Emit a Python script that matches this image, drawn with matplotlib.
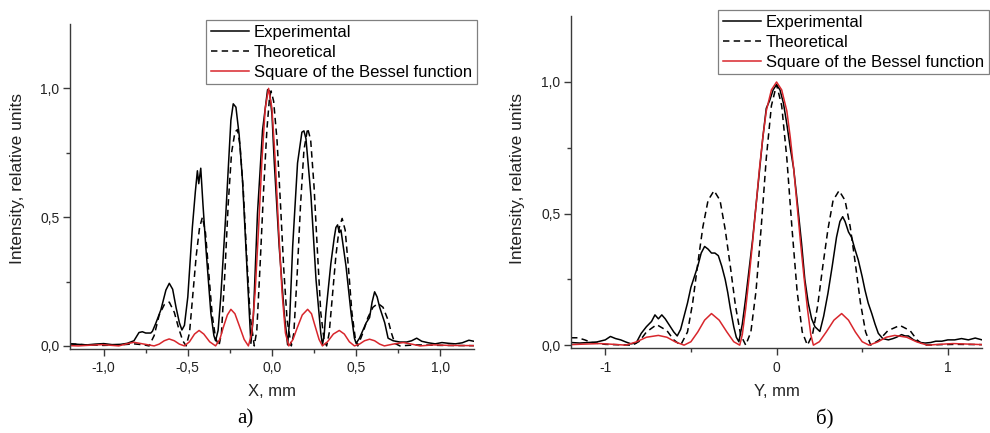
import matplotlib
matplotlib.use('Agg')
import matplotlib.pyplot as plt
from matplotlib.ticker import FixedLocator

# ---- panel a) : scan along X ----
x_exp_a = [-1.2, -1.15, -1.1, -1.05, -1.0, -0.95, -0.9, -0.86, -0.82, -0.79, -0.77, -0.75, -0.72, -0.71,
           -0.69, -0.66, -0.63, -0.61, -0.59, -0.57, -0.55, -0.535, -0.52, -0.50, -0.473, -0.455, -0.443,
           -0.435, -0.423, -0.41, -0.393, -0.363, -0.345, -0.335, -0.32, -0.304, -0.274, -0.244, -0.23,
           -0.214, -0.195, -0.175, -0.145, -0.125, -0.11, -0.086, -0.056, -0.026, -0.015, 0.0, 0.014, 0.043,
           0.073, 0.093, 0.105, 0.123, 0.152, 0.178, 0.19, 0.202, 0.232, 0.262, 0.29, 0.30, 0.31, 0.32, 0.35,
           0.37, 0.38, 0.39, 0.40, 0.41, 0.44, 0.47, 0.49, 0.50, 0.52, 0.54, 0.56, 0.58, 0.595, 0.61, 0.625,
           0.64, 0.67, 0.69, 0.72, 0.76, 0.80, 0.83, 0.86, 0.89, 0.93, 0.97, 1.01, 1.05, 1.09, 1.13, 1.17, 1.2]
i_exp_a = [0.008, 0.006, 0.004, 0.007, 0.009, 0.005, 0.006, 0.01, 0.02, 0.052, 0.055, 0.05, 0.05, 0.057,
           0.088, 0.14, 0.217, 0.243, 0.22, 0.15, 0.09, 0.062, 0.08, 0.19, 0.46, 0.6, 0.68,
           0.63, 0.69, 0.55, 0.385, 0.127, 0.04, 0.02, 0.06, 0.19, 0.514, 0.876, 0.94,
           0.927, 0.82, 0.643, 0.256, 0.01, 0.12, 0.514, 0.837, 0.995, 0.99, 0.9, 0.71, 0.385,
           0.127, 0.004, 0.1, 0.385, 0.71, 0.83, 0.835, 0.805, 0.58, 0.256, 0.05, 0.005, 0.04, 0.127, 0.32,
           0.42, 0.46, 0.47, 0.44, 0.45, 0.31, 0.127, 0.03, 0.01, 0.03, 0.06, 0.09, 0.11, 0.17, 0.21, 0.19,
           0.15, 0.09, 0.03, 0.02, 0.015, 0.015, 0.02, 0.03, 0.018, 0.012, 0.008, 0.013, 0.01, 0.008, 0.012, 0.022, 0.018]

x_th_a = [-1.2, -1.1, -1.0, -0.9, -0.82, -0.76, -0.73, -0.70, -0.67, -0.64, -0.61, -0.58, -0.555, -0.53,
          -0.51, -0.49, -0.47, -0.45, -0.43, -0.413, -0.395, -0.375, -0.355, -0.335, -0.315, -0.30, -0.28,
          -0.26, -0.24, -0.22, -0.205, -0.19, -0.17, -0.15, -0.13, -0.105, -0.09, -0.07, -0.05, -0.03,
          -0.015, -0.005, 0.01, 0.03, 0.05, 0.07, 0.09, 0.115, 0.13, 0.15, 0.17, 0.19, 0.212, 0.23, 0.25,
          0.27, 0.29, 0.31, 0.325, 0.34, 0.36, 0.38, 0.40, 0.417, 0.435, 0.455, 0.475, 0.495, 0.51, 0.54,
          0.57, 0.60, 0.63, 0.66, 0.69, 0.71, 0.73, 0.76, 0.85, 1.0, 1.2]
i_th_a = [0.008, 0.004, 0.002, 0.004, 0.008, 0.004, 0.0, 0.04, 0.12, 0.16, 0.17, 0.13, 0.07, 0.02,
          0.0, 0.05, 0.2, 0.35, 0.46, 0.50, 0.44, 0.28, 0.12, 0.03, 0.0, 0.05, 0.28,
          0.55, 0.75, 0.83, 0.84, 0.78, 0.6, 0.35, 0.12, 0.0, 0.06, 0.32, 0.6, 0.84,
          0.96, 0.99, 0.95, 0.8, 0.56, 0.3, 0.1, 0.0, 0.05, 0.28, 0.55, 0.76, 0.845, 0.8, 0.62,
          0.37, 0.13, 0.02, 0.0, 0.05, 0.2, 0.35, 0.46, 0.495, 0.45, 0.3, 0.13, 0.03, 0.0, 0.05,
          0.11, 0.15, 0.165, 0.15, 0.1, 0.05, 0.01, 0.0, 0.004, 0.002, 0.001]

x_bes_a = [-1.2, -1.15, -1.1, -1.01, -0.95, -0.91, -0.87, -0.82, -0.76, -0.70, -0.67, -0.64, -0.611, -0.58,
           -0.55, -0.52, -0.49, -0.46, -0.433, -0.405, -0.37, -0.335, -0.31, -0.29, -0.265, -0.244, -0.22,
           -0.195, -0.165, -0.14, -0.12, -0.10, -0.08, -0.06, -0.04, -0.02, 0.0, 0.02, 0.04, 0.06, 0.08,
           0.10, 0.125, 0.15, 0.18, 0.212, 0.235, 0.255, 0.28, 0.30, 0.33, 0.365, 0.40, 0.43, 0.46, 0.49,
           0.52, 0.55, 0.58, 0.61, 0.64, 0.668, 0.72, 0.78, 0.83, 0.88, 0.96, 1.05, 1.2]
i_bes_a = [0.001, 0.0, 0.002, 0.005, 0.002, 0.0, 0.007, 0.014, 0.007, 0.0, 0.007, 0.02, 0.027, 0.02,
           0.007, 0.0, 0.016, 0.046, 0.06, 0.046, 0.016, 0.0, 0.025, 0.07, 0.12, 0.142, 0.125,
           0.08, 0.025, 0.0, 0.05, 0.207, 0.45, 0.716, 0.922, 1.0, 0.922, 0.716, 0.45, 0.207, 0.05,
           0.0, 0.025, 0.07, 0.12, 0.142, 0.125, 0.08, 0.025, 0.0, 0.016, 0.046, 0.06, 0.046, 0.016, 0.0,
           0.007, 0.02, 0.026, 0.02, 0.007, 0.0, 0.007, 0.013, 0.007, 0.0, 0.004, 0.002, 0.001]

# ---- panel б) : scan along Y ----
y_exp_b = [-1.2, -1.15, -1.1, -1.05, -1.0, -0.97, -0.94, -0.91, -0.88, -0.85, -0.82, -0.79, -0.76, -0.73,
           -0.71, -0.69, -0.67, -0.65, -0.62, -0.60, -0.58, -0.56, -0.54, -0.52, -0.50, -0.48, -0.46, -0.44,
           -0.42, -0.40, -0.38, -0.36, -0.34, -0.32, -0.30, -0.285, -0.27, -0.25, -0.235, -0.22, -0.20, -0.18,
           -0.16, -0.14, -0.12, -0.10, -0.08, -0.06, -0.04, -0.02, 0.0, 0.02, 0.04, 0.06, 0.08, 0.10, 0.12,
           0.146, 0.165, 0.185, 0.205, 0.224, 0.253, 0.275, 0.30, 0.325, 0.35, 0.37, 0.386, 0.40, 0.42,
           0.438, 0.455, 0.477, 0.50, 0.516, 0.535, 0.556, 0.575, 0.594, 0.62, 0.653, 0.68, 0.70, 0.73,
           0.75, 0.77, 0.80, 0.84, 0.867, 0.9, 0.93, 0.965, 1.0, 1.04, 1.08, 1.12, 1.16, 1.2]
i_exp_b = [0.01, 0.008, 0.01, 0.012, 0.02, 0.033, 0.025, 0.02, 0.012, 0.005, 0.008, 0.045, 0.07, 0.09,
           0.115, 0.10, 0.115, 0.1, 0.07, 0.05, 0.035, 0.06, 0.11, 0.16, 0.22, 0.26, 0.3, 0.35,
           0.375, 0.365, 0.35, 0.35, 0.34, 0.30, 0.25, 0.2, 0.14, 0.07, 0.03, 0.013, 0.08, 0.18,
           0.29, 0.4, 0.53, 0.66, 0.79, 0.9, 0.93, 0.97, 0.99, 0.97, 0.92, 0.84, 0.75, 0.67, 0.55,
           0.387, 0.25, 0.16, 0.1, 0.07, 0.052, 0.11, 0.197, 0.3, 0.41, 0.47, 0.488, 0.47, 0.43,
           0.41, 0.37, 0.324, 0.26, 0.21, 0.16, 0.12, 0.08, 0.045, 0.025, 0.02, 0.025, 0.03, 0.04,
           0.035, 0.035, 0.02, 0.01, 0.008, 0.01, 0.015, 0.015, 0.02, 0.02, 0.025, 0.02, 0.027, 0.02]

y_th_b = [-1.2, -1.16, -1.12, -1.08, -1.0, -0.9, -0.84, -0.80, -0.76, -0.70, -0.64, -0.60, -0.56, -0.52,
          -0.49, -0.46, -0.43, -0.40, -0.365, -0.33, -0.30, -0.27, -0.24, -0.21, -0.18, -0.15, -0.12, -0.09,
          -0.06, -0.03, 0.0, 0.03, 0.06, 0.09, 0.12, 0.15, 0.18, 0.21, 0.24, 0.27, 0.30, 0.33, 0.365, 0.40,
          0.43, 0.46, 0.49, 0.52, 0.55, 0.60, 0.65, 0.72, 0.78, 0.82, 0.86, 0.95, 1.05, 1.2]
i_th_b = [0.028, 0.028, 0.02, 0.01, 0.003, 0.001, 0.0, 0.015, 0.05, 0.078, 0.055, 0.02, 0.0, 0.05,
          0.16, 0.31, 0.45, 0.55, 0.587, 0.55, 0.44, 0.3, 0.15, 0.04, 0.0, 0.05, 0.205, 0.445,
          0.71, 0.91, 0.99, 0.91, 0.71, 0.445, 0.205, 0.05, 0.0, 0.04, 0.15, 0.3, 0.44, 0.55, 0.587, 0.55,
          0.45, 0.31, 0.16, 0.05, 0.0, 0.02, 0.055, 0.075, 0.055, 0.02, 0.0, 0.002, 0.003, 0.002]

y_bes_b = [-1.2, -1.12, -1.03, -0.95, -0.88, -0.82, -0.76, -0.69, -0.64, -0.59, -0.54, -0.50, -0.46, -0.42,
           -0.38, -0.335, -0.29, -0.25, -0.215, -0.20, -0.18, -0.16, -0.14, -0.12, -0.10, -0.08, -0.06, -0.03,
           0.0, 0.03, 0.06, 0.08, 0.10, 0.12, 0.14, 0.16, 0.18, 0.20, 0.215, 0.25, 0.29, 0.335, 0.38, 0.42,
           0.46, 0.50, 0.54, 0.59, 0.64, 0.69, 0.76, 0.82, 0.88, 0.95, 1.03, 1.12, 1.2]
i_bes_b = [0.002, 0.004, 0.006, 0.003, 0.0, 0.012, 0.03, 0.037, 0.03, 0.012, 0.0, 0.013, 0.05, 0.095,
           0.12, 0.095, 0.05, 0.013, 0.0, 0.04, 0.14, 0.26, 0.39, 0.53, 0.67, 0.79, 0.89, 0.97,
           1.0, 0.97, 0.89, 0.79, 0.67, 0.53, 0.39, 0.26, 0.14, 0.04, 0.0, 0.013, 0.05, 0.095, 0.12, 0.095,
           0.05, 0.013, 0.0, 0.012, 0.03, 0.037, 0.03, 0.012, 0.0, 0.003, 0.006, 0.004, 0.002]

yticks = [0.0, 0.5, 1.0]
yticklabels = ['0,0', '0,5', '1,0']
xticks_a = [-1.0, -0.5, 0.0, 0.5, 1.0]
xticklabels_a = ['-1,0', '-0,5', '0,0', '0,5', '1,0']
xticks_b = [-1, 0, 1]
xticklabels_b = ['-1', '0', '1']
labels = ['Experimental', 'Theoretical', 'Square of the Bessel function']

plt.rcParams['font.family'] = ['Liberation Sans', 'DejaVu Sans']
RED = '#d8262c'
AX = '#3a3a3a'
DASH = (4.2, 2.8)

fig = plt.figure(figsize=(9.9, 4.33), dpi=100)
ax1 = fig.add_axes([0.0707, 0.194, 0.408, 0.7506])
ax2 = fig.add_axes([0.5768, 0.1956, 0.4152, 0.767])


def style(ax, xt, xtl, xminor, xlab):
    ax.set_xlim(-1.2, 1.2)
    ax.set_ylim(-0.012, 1.25)
    for s in ['top', 'right']:
        ax.spines[s].set_visible(False)
    for s in ['left', 'bottom']:
        ax.spines[s].set_color(AX)
        ax.spines[s].set_linewidth(1.0)
    ax.xaxis.set_major_locator(FixedLocator(xt))
    ax.set_xticklabels(xtl)
    ax.xaxis.set_minor_locator(FixedLocator(xminor))
    ax.yaxis.set_major_locator(FixedLocator(yticks))
    ax.set_yticklabels(yticklabels)
    ax.yaxis.set_minor_locator(FixedLocator([0.25, 0.75]))
    ax.tick_params(which='major', direction='out', length=5, width=1, color=AX, labelsize=10, labelcolor='#222')
    ax.tick_params(which='minor', direction='out', length=3, width=1, color=AX)
    ax.tick_params(axis='x', pad=4)
    ax.tick_params(axis='y', pad=2.5)
    ax.set_xlabel(xlab, fontsize=12, color='#222')
    ax.set_ylabel('Intensity, relative units', fontsize=12.5, color='#222')


l1, = ax1.plot(x_exp_a, i_exp_a, color='black', lw=1.1)
l2, = ax1.plot(x_th_a, i_th_a, color='black', lw=1.1, dashes=DASH)
l3, = ax1.plot(x_bes_a, i_bes_a, color=RED, lw=1.1)
style(ax1, xticks_a, xticklabels_a, [-0.75, -0.25, 0.25, 0.75], 'X, mm')
ax1.yaxis.set_label_coords(-0.111, 0.526)
ax1.xaxis.set_label_coords(0.5, -0.108)

ax2.plot(y_exp_b, i_exp_b, color='black', lw=1.1)
ax2.plot(y_th_b, i_th_b, color='black', lw=1.1, dashes=DASH)
ax2.plot(y_bes_b, i_bes_b, color=RED, lw=1.1)
style(ax2, xticks_b, xticklabels_b, [-0.5, 0.5], 'Y, mm')
ax2.yaxis.set_label_coords(-0.112, 0.512)
ax2.xaxis.set_label_coords(0.5, -0.107)

for ax, anchor in [(ax1, (206 / 990, 1 - 20 / 433)), (ax2, (718 / 990, 1 - 10 / 433))]:
    leg = ax.legend([l1, l2, l3], labels, loc='upper left', bbox_to_anchor=anchor,
                    bbox_transform=fig.transFigure, fontsize=12, fancybox=False, framealpha=1,
                    edgecolor='#808080', borderpad=0.28, borderaxespad=0, handlelength=2.3,
                    handletextpad=0.3, labelspacing=0.3)
    leg.get_frame().set_linewidth(0.9)

fig.text(245 / 990, 1 - 419 / 433, 'a)', ha='center', va='center', fontsize=15, family='Liberation Serif')
fig.text(825 / 990, 1 - 419 / 433, 'б)', ha='center', va='center', fontsize=15, family='Liberation Serif')

fig.savefig('out.png', dpi=100)
